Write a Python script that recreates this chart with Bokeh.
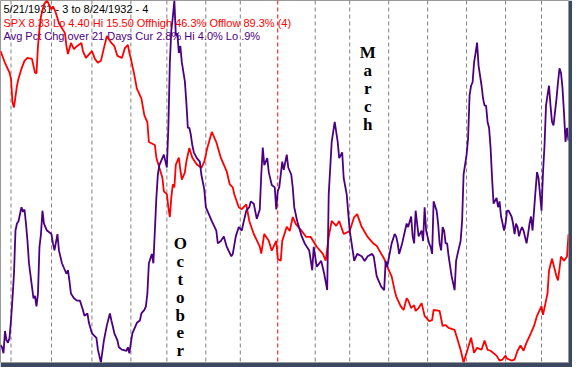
from bokeh.plotting import figure
from bokeh.models import Range1d, Span, Label
from bokeh.embed import file_html
from bokeh.resources import INLINE

# ---- data (trading-day index from 5/21/1931 to 8/24/1932) ----
spx_day = [0, 3, 6, 7, 8, 9, 11, 12, 14, 16,
           18, 21, 23, 24, 25, 26, 27, 29, 31, 34,
           35, 36, 37, 39, 43, 44, 45, 47, 49, 51,
           54, 55, 57, 61, 63, 65, 67, 69, 71, 74,
           76, 78, 81, 83, 85, 86, 87, 89, 91, 94,
           96, 98, 99, 103, 104, 106, 108, 109, 111, 112,
           113, 114, 115, 116, 117, 119, 120, 121, 123, 124,
           126, 128, 131, 134, 136, 138, 141, 144, 147, 151,
           153, 155, 156, 159, 161, 164, 166, 169, 173, 174,
           176, 179, 181, 184, 185, 187, 188, 191, 193, 195,
           197, 201, 204, 207, 211, 215, 217, 219, 221, 224,
           226, 229, 233, 236, 238, 241, 245, 249, 251, 254,
           256, 258, 261, 263, 264, 267, 269, 271, 272, 274,
           276, 277, 279, 281, 283, 286, 288, 289, 293, 295,
           297, 299, 303, 305, 307, 309, 311, 314, 316, 318,
           321, 323, 325, 327, 331, 333, 335, 337, 338, 341,
           343, 345, 347, 349, 351, 354, 356, 358, 361, 362,
           365, 366, 368, 371, 372, 374, 376, 378, 379]
spx_close = [13.95, 13.59, 13.29, 13.10, 12.38, 12.22, 12.89, 13.10, 13.41, 13.65,
             13.74, 13.71, 13.29, 13.26, 14.10, 14.62, 15.01, 15.38, 15.50, 15.23,
             15.32, 15.23, 15.11, 14.80, 14.50, 14.10, 13.86, 14.20, 14.01, 14.10,
             14.20, 13.95, 13.74, 13.95, 13.71, 13.59, 13.65, 14.04, 14.41, 14.20,
             14.10, 13.80, 13.74, 14.04, 14.14, 13.89, 13.71, 13.29, 12.80, 12.50,
             11.98, 11.77, 11.16, 11.07, 10.68, 10.37, 10.07, 9.65, 9.56, 9.16,
             8.86, 9.47, 9.86, 9.77, 10.47, 10.68, 10.31, 10.01, 10.22, 10.56,
             10.98, 10.68, 10.47, 10.37, 10.56, 10.98, 11.47, 11.16, 10.68, 10.25,
             9.86, 9.77, 9.56, 9.16, 9.10, 9.25, 8.74, 8.34, 7.95, 7.74,
             8.34, 8.13, 7.83, 8.13, 7.58, 7.52, 8.13, 8.56, 8.43, 8.86,
             8.65, 8.43, 8.25, 8.25, 7.95, 7.74, 7.52, 8.25, 8.74, 8.59,
             8.74, 8.34, 8.43, 8.86, 8.95, 8.56, 8.25, 8.04, 7.98, 7.74,
             7.58, 7.34, 7.04, 6.61, 6.43, 6.13, 6.01, 6.37, 6.31, 6.07,
             6.16, 5.98, 6.07, 6.22, 5.83, 5.67, 5.70, 6.01, 5.98, 5.52,
             5.55, 5.46, 5.40, 5.10, 4.79, 4.40, 4.70, 5.16, 4.70, 4.85,
             4.79, 5.07, 4.79, 4.76, 4.61, 4.46, 4.49, 4.61, 4.52, 4.46,
             4.49, 4.76, 4.92, 4.76, 5.01, 5.31, 5.52, 5.83, 6.13, 5.86,
             6.52, 7.22, 7.58, 7.04, 6.92, 7.65, 7.52, 7.65, 8.33]

chg_day = [0, 1, 2, 3, 4, 5, 6, 7, 8, 9,
           10, 11, 12, 13, 14, 15, 16, 17, 18, 19,
           21, 22, 23, 24, 25, 26, 27, 28, 29, 31,
           34, 35, 36, 38, 39, 41, 43, 44, 45, 46,
           47, 49, 51, 53, 55, 56, 58, 59, 61, 64,
           65, 67, 69, 71, 73, 74, 76, 78, 79, 81,
           84, 85, 86, 87, 88, 91, 93, 94, 96, 97,
           98, 99, 101, 102, 103, 104, 105, 106, 107, 109,
           111, 112, 113, 114, 115, 116, 117, 118, 119, 120,
           121, 123, 124, 125, 126, 127, 128, 129, 131, 133,
           134, 136, 137, 139, 141, 144, 145, 147, 149, 151,
           154, 155, 157, 159, 161, 162, 164, 166, 167, 169,
           171, 173, 174, 175, 176, 178, 179, 181, 183, 184,
           185, 186, 188, 189, 191, 192, 194, 195, 196, 198,
           201, 203, 206, 208, 209, 211, 214, 216, 218, 219,
           221, 223, 225, 226, 228, 229, 231, 233, 235, 236,
           238, 241, 243, 245, 248, 249, 251, 254, 256, 257,
           258, 261, 263, 264, 265, 266, 268, 271, 272, 274,
           275, 276, 277, 278, 279, 281, 282, 283, 284, 286,
           287, 288, 289, 291, 292, 293, 294, 295, 296, 297,
           298, 299, 301, 303, 304, 305, 307, 308, 309, 311,
           312, 313, 314, 315, 316, 317, 318, 319, 321, 322,
           323, 324, 325, 326, 327, 328, 329, 331, 332, 333,
           334, 335, 336, 337, 338, 339, 341, 342, 343, 344,
           345, 346, 347, 348, 349, 351, 352, 353, 354, 355,
           356, 357, 358, 359, 361, 362, 363, 364, 365, 366,
           367, 368, 369, 371, 372, 373, 374, 375, 376, 377,
           378, 379]
chg_pct = [1.05, 1.03, 0.98, 1.17, 1.09, 1.07, 1.11, 1.26, 1.45, 1.66,
           2.03, 2.09, 2.11, 2.17, 2.23, 2.19, 2.21, 2.09, 1.94, 1.75,
           1.55, 1.45, 1.47, 1.38, 1.49, 1.89, 2.00, 2.20, 2.09, 2.03,
           2.00, 1.92, 1.86, 2.00, 1.86, 1.75, 1.69, 1.66, 1.69, 1.60,
           1.49, 1.45, 1.43, 1.43, 1.35, 1.30, 1.32, 1.24, 1.15, 1.11,
           1.01, 0.90, 1.09, 1.22, 1.32, 1.26, 1.15, 1.09, 1.03, 1.01,
           1.00, 1.03, 0.98, 1.07, 1.15, 1.24, 1.26, 1.32, 1.35, 1.38,
           1.49, 1.75, 1.83, 1.75, 2.03, 2.31, 2.51, 2.59, 2.62, 2.68,
           2.57, 2.91, 3.47, 3.75, 3.86, 4.00, 3.70, 3.72, 3.55, 3.61,
           3.47, 3.31, 3.13, 2.91, 2.91, 2.85, 2.76, 2.70, 2.65, 2.62,
           2.51, 2.38, 2.23, 2.17, 2.11, 2.03, 1.92, 1.94, 1.98, 1.89,
           1.81, 1.83, 1.98, 2.06, 2.03, 2.09, 2.20, 2.23, 2.28, 2.26,
           2.13, 2.21, 2.51, 2.74, 2.59, 2.65, 2.53, 2.42, 2.40, 2.21,
           2.37, 2.40, 2.62, 2.55, 2.68, 2.57, 2.51, 2.40, 2.23, 2.11,
           1.98, 1.92, 1.86, 1.69, 1.89, 1.72, 1.77, 1.66, 1.52, 2.34,
           2.79, 2.96, 2.79, 2.65, 2.70, 2.48, 2.34, 2.03, 1.86, 1.77,
           1.83, 1.81, 1.77, 1.81, 1.83, 1.81, 1.64, 1.55, 1.52, 1.77,
           1.72, 1.92, 2.00, 1.98, 1.92, 1.83, 1.92, 2.09, 2.06, 2.15,
           1.98, 1.92, 2.20, 2.09, 1.98, 2.03, 1.94, 2.23, 2.03, 1.92,
           1.89, 1.83, 2.28, 2.20, 2.09, 1.92, 1.86, 2.06, 2.03, 1.92,
           1.92, 1.81, 1.64, 1.52, 1.77, 1.83, 1.94, 2.11, 2.51, 2.68,
           2.82, 3.19, 3.27, 3.30, 3.47, 3.55, 3.64, 3.44, 3.27, 3.16,
           3.10, 3.10, 2.96, 2.91, 2.74, 2.48, 2.26, 2.31, 2.23, 2.28,
           2.15, 2.09, 2.03, 2.09, 2.20, 2.20, 2.15, 2.09, 2.00, 2.09,
           2.06, 1.98, 2.03, 2.06, 2.03, 1.92, 2.00, 2.09, 2.15, 2.03,
           2.20, 2.37, 2.53, 2.48, 2.20, 2.53, 2.76, 3.10, 3.19, 3.27,
           3.10, 2.96, 2.93, 3.16, 3.30, 3.42, 3.38, 3.25, 3.04, 2.79,
           2.91, 2.80]

# first trading day of each month (Jun 1931 .. Aug 1932)
month_names = ["Jun", "Jul", "Aug", "Sep", "Oct", "Nov", "Dec", "Jan",
               "Feb", "Mar", "Apr", "May", "Jun", "Jul", "Aug"]
month_start_day = [7, 34, 61, 87, 111, 137, 160, 185, 210, 233, 259, 285, 311, 337, 361]
year_start_day = 185

header_lines = ["5/21/1931 - 3 to 8/24/1932 - 4",
                "SPX 8.33 Lo 4.40 Hi 15.50  Offhigh 46.3%  Offlow 89.3% (4)",
                "Avg Pct Chg over 21 Days Cur 2.8% Hi 4.0% Lo .9%"]
spx_lo, spx_hi = 4.40, 15.50
chg_lo, chg_hi = 0.9, 4.0
words = [("October", 120), ("March", 245)]

RED = "#FF0000"
INDIGO = "#4B0082"

p = figure(width=572, height=367, output_backend="svg", toolbar_location=None,
           x_axis_location=None, y_axis_location=None,
           x_range=Range1d(0, 379), y_range=Range1d(spx_lo, spx_hi),
           min_border_left=0, min_border_top=0, min_border_right=4, min_border_bottom=5)
p.extra_y_ranges = {"chg": Range1d(chg_lo, chg_hi)}
p.grid.visible = False
p.background_fill_color = "white"
p.border_fill_color = "#3A4862"
p.outline_line_color = "#9A9A9A"
p.outline_line_width = 1

for d in month_start_day:
    p.add_layout(Span(location=d, dimension="height",
                      line_color=RED if d == year_start_day else "#808080",
                      line_dash="4 3", line_width=1, level="underlay"))

header_colors = ["black", RED, INDIGO]
header_y = [353.6, 339.7, 326.9]
for txt, col, yy in zip(header_lines, header_colors, header_y):
    p.add_layout(Label(x=3, y=yy, x_units="screen", y_units="screen", text=txt,
                       text_font="Liberation Sans", text_font_size="11px",
                       text_color=col, text_baseline="alphabetic", level="underlay"))

p.line(spx_day, spx_close, line_color=RED, line_width=1.8)
p.line(chg_day, chg_pct, line_color=INDIGO, line_width=1.8, y_range_name="chg")

word_top = {"October": 118.7, "March": 309.6}
word_step = {"October": 17.8, "March": 18.0}
for word, xd in words:
    for i, ch in enumerate(word):
        p.add_layout(Label(x=xd, y=word_top[word] - i * word_step[word],
                           x_units="data", y_units="screen", text=ch,
                           text_font="Liberation Serif", text_font_style="bold",
                           text_font_size="17px", text_color="black",
                           text_align="center", text_baseline="alphabetic"))

open("out.html", "w").write(file_html(p, INLINE))
